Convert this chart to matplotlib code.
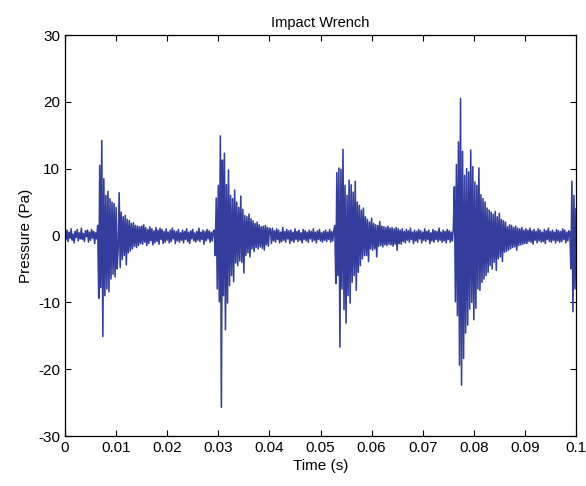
import numpy as np
import matplotlib
matplotlib.use("Agg")
import matplotlib.pyplot as plt

plt.rcParams['font.family'] = ['Liberation Sans', 'DejaVu Sans']
plt.rcParams['axes.unicode_minus'] = False

dt = 0.0002

quiet_start = [0.3,-0.6,0.8,-0.9,0.5,-0.4,1.0,-0.7,0.2,-1.1,
               0.6,-0.3,0.9,-0.8,0.4,-0.5,1.1,-0.6,0.3,-0.9,
               0.7,-0.2,0.8,-1.0,0.5,-0.7,0.9,-0.4,0.6,-1.2,
               0.4,-0.5]

impact_1 = [1.5,-9.4,10.5,-7.8,14.2,-15.1,8.5,-9.0,6.0,-8.0,
            6.6,-8.4,5.5,-6.5,5.0,-5.8,4.8,-6.2,4.2,-5.0,
            -2.0,6.4,-4.8,3.5,-3.6,2.8,-3.0,3.0,-4.4,2.4,
            -2.6,2.2,-2.3,1.8,-2.0,1.9,-1.6,1.5,-1.8,1.4,
            -1.5,1.3,-1.2]

quiet_2 = [1.4,-1.3,1.6,-1.0,1.2,-1.5,0.9,-1.2,1.3,-0.8,
           1.0,-1.4,0.7,-1.1,1.2,-0.9,0.8,-1.3,1.1,-0.6,
           0.9,-1.2,0.6,-1.0,1.0,-0.7,0.5,-1.1,0.8,-0.9,
           1.1,-0.5,0.7,-1.2,0.6,-0.8,0.9,-1.0,0.4,-0.7,
           0.8,-1.1,0.6,-0.6,1.0,-0.9,0.5,-1.2,0.7,-0.5,
           0.9,-0.8,0.4,-1.0,0.6,-0.7,1.1,-0.9,0.5,-0.6,
           0.8,-1.3,0.6,-0.8,0.9,-0.5,0.7,-1.0,0.5,-0.8,
           0.6]

impact_2 = [0.8,-3.0,5.6,-8.0,7.5,-9.9,14.9,-25.7,11.3,-9.0,
            12.3,-14.1,7.6,-10.1,9.8,-7.5,6.0,-6.0,5.5,-6.9,
            6.8,-4.1,5.0,-4.5,4.2,-3.8,5.9,-4.0,3.9,-5.6,
            3.0,-3.0,2.8,-2.6,3.2,-3.2,2.5,-2.0,2.2,-2.4,
            1.8,-1.8,2.0,-2.0,1.6,-1.7,1.3,-1.9,1.4,-2.2,
            1.5,-1.4,1.2,-1.6,1.1]

quiet_3 = [0.9,-1.2,1.1,-0.8,0.7,-1.0,1.0,-0.6,0.8,-1.1,
           0.5,-0.9,1.2,-0.7,0.6,-1.0,0.9,-0.5,0.7,-1.2,
           0.8,-0.8,0.5,-1.0,1.0,-0.6,0.6,-0.9,0.8,-0.7,
           0.4,-1.1,0.9,-0.6,0.7,-0.8,0.5,-1.0,0.8,-0.5,
           0.6,-0.9,1.0,-0.7,0.5,-1.1,0.7,-0.6,0.9,-0.8,
           0.4,-1.0,0.6,-0.7,0.8,-0.9,0.5,-0.6,0.9,-1.0,
           0.6,-0.8,0.7]

impact_3 = [1.5,-7.2,9.4,-6.0,10.1,-16.7,9.9,-8.0,12.9,-11.1,
            7.5,-13.1,6.0,-9.0,8.3,-10.1,7.6,-7.0,6.5,-6.0,
            8.1,-8.2,5.0,-5.5,4.5,-4.5,3.8,-3.5,4.1,-3.0,
            2.8,-3.0,2.4,-3.9,2.0,-2.0,2.6,-2.2,1.8,-2.0,
            1.6,-3.2,1.5,-1.6,2.1,-1.5,1.4,-1.7,1.3,-1.4,
            1.2,-1.5,1.4,-1.3,1.1,-1.4,1.2,-1.6,1.0,-1.3,
            1.2,-2.2,1.0,-1.2]

quiet_4 = [0.8,-1.3,1.0,-0.9,0.6,-1.1,0.9,-0.7,0.7,-1.0,
           1.1,-0.6,0.5,-1.2,0.8,-0.8,0.6,-1.0,0.9,-0.5,
           0.7,-1.1,0.5,-0.7,1.0,-0.9,0.6,-0.6,0.8,-1.2,
           0.4,-0.8,0.9,-1.0,0.7,-0.6,0.6,-0.9,1.1,-0.7,
           0.5,-1.0,0.8,-0.8,0.6,-1.1,0.9,-0.6,0.7,-1.0,
           0.5,-0.8]

impact_4 = [1.0,7.3,-9.9,10.6,-12.0,14.0,-19.4,20.5,-22.4,12.6,
            -18.4,9.0,-14.6,10.0,-13.4,9.5,-11.0,12.8,-10.0,10.3,
            -12.6,8.0,-10.9,7.5,-8.0,10.1,-8.2,6.1,-7.0,5.5,
            -6.5,5.0,-6.0,4.1,-5.5,3.8,-4.5,3.5,-5.0,3.2,
            -4.0,3.6,-5.2,2.8,-3.5,3.3,-3.2,2.4,-3.9,2.2,
            -2.5,2.0,-2.4,1.3,-2.2,1.6,-2.0,1.5,-1.8,1.2,
            -1.7,1.4,-2.2,1.1,-1.5,1.0,-1.4,1.2,-1.3,0.8,
            -1.2]

quiet_5 = [1.0,-1.2,0.8,-0.9,1.1,-1.0,0.7,-1.3,0.9,-0.7,
           0.6,-1.1,1.0,-0.8,0.8,-1.0,0.5,-0.9,0.9,-1.2,
           0.7,-0.6,1.1,-0.9,0.6,-1.0,0.8,-0.7,0.5,-1.1,
           0.9,-0.8,0.7,-1.0,0.6,-0.9,1.0,-0.6,0.8,-1.1,
           0.5,-0.8,0.7]

impact_5 = [0.5,-5.0,8.1,-11.4,6.0,-8.0,4.0]

segment_starts = [0.0, 0.0064, 0.0150, 0.0292, 0.0402, 0.0528, 0.0656, 0.0760, 0.0902, 0.0988]
segments = [quiet_start, impact_1, quiet_2, impact_2, quiet_3, impact_3,
            quiet_4, impact_4, quiet_5, impact_5]

t_parts, p_parts = [], []
for s, vals in zip(segment_starts, segments):
    t_parts.append(s + np.arange(len(vals)) * dt)
    p_parts.append(np.array(vals))
time = np.concatenate(t_parts)
pressure = np.concatenate(p_parts)

x_ticks = [0, 0.01, 0.02, 0.03, 0.04, 0.05, 0.06, 0.07, 0.08, 0.09, 0.1]
x_labels = ['0', '0.01', '0.02', '0.03', '0.04', '0.05', '0.06', '0.07', '0.08', '0.09', '0.1']
y_ticks = [-30, -20, -10, 0, 10, 20, 30]

fig = plt.figure(figsize=(5.86, 4.86), dpi=100)
ax = fig.add_axes([65/586, 50/486, 511/586, 401/486])
ax.plot(time, pressure, color='#333D9B', linewidth=1.15)
ax.set_xlim(0, 0.1)
ax.set_ylim(-30, 30)
ax.set_xticks(x_ticks)
ax.set_xticklabels(x_labels)
ax.set_yticks(y_ticks)
ax.tick_params(direction='in', top=True, right=True, length=4, width=0.8, labelsize=11)
for sp in ax.spines.values():
    sp.set_linewidth(0.9)
ax.set_title('Impact Wrench', fontsize=10.5, pad=6)
ax.set_xlabel('Time (s)', fontsize=11, labelpad=3)
ax.set_ylabel('Pressure (Pa)', fontsize=11, labelpad=4)
fig.savefig('out.png', dpi=100)
